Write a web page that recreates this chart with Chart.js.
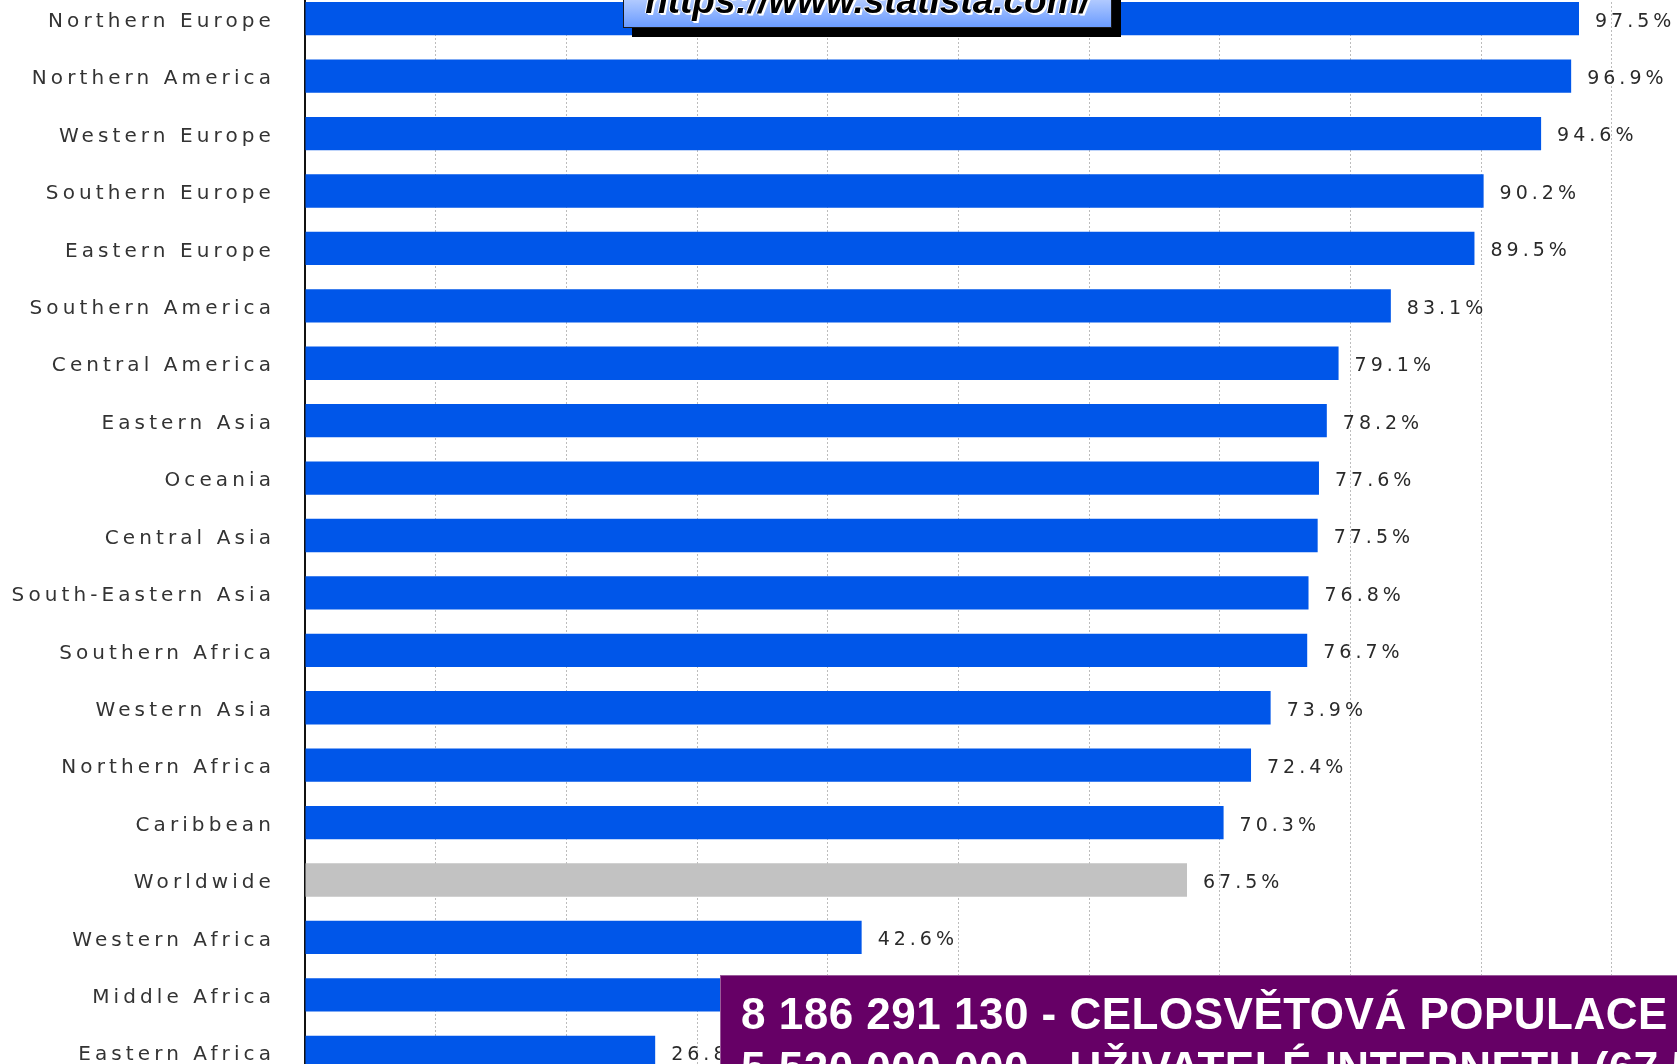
<!DOCTYPE html>
<html>
<head>
<meta charset="utf-8">
<script src="https://cdn.jsdelivr.net/npm/chart.js@4"></script>
<style>
  html, body { margin: 0; padding: 0; background: #fff; overflow: hidden; width: 1677px; height: 1064px; }
  #wrap { position: absolute; left: 0; top: -10px; width: 1677px; height: 1091px; }
  #url {
    position: absolute; left: 623px; top: -26px; width: 487px; height: 52px;
    border: 1px solid #1a1a1a; background: linear-gradient(#f2f5ff, #6a9bff);
    box-shadow: 9px 9px 0 #000;
  }
  #url span {
    position: absolute; left: 0; top: 7px; width: 100%; text-align: center;
    font: italic bold 37px "Liberation Sans", Arial, sans-serif; line-height: 37px; color: #000;
    text-shadow: 2px 2px 0 #fff, 1px 1px 0 #fff, -1px 0 0 #fff, 0 -1px 0 #fff;
  }
  #note {
    position: absolute; left: 720px; top: 975px; width: 1000px; height: 140px;
    background: #660066; border: 1px solid #9a5a9a; box-sizing: border-box;
    padding: 11px 0 0 20px; color: #fff; white-space: nowrap;
    font: bold 44px "Liberation Sans", Arial, sans-serif; line-height: 54px; letter-spacing: 0.5px;
  }
</style>
</head>
<body>
<div id="wrap"><canvas id="c" width="1677" height="1091"></canvas></div>
<div id="url"><span>https://www.statista.com/</span></div>
<div id="note">8 186 291 130 - CELOSVĚTOVÁ POPULACE<br>5 520 000 000 - UŽIVATELÉ INTERNETU (67,5 %)</div>
<script>
// Internet penetration rate by region (share of population online), cropped Statista bar chart
const REGIONS = ["Northern Europe", "Northern America", "Western Europe", "Southern Europe", "Eastern Europe",
  "Southern America", "Central America", "Eastern Asia", "Oceania", "Central Asia", "South-Eastern Asia",
  "Southern Africa", "Western Asia", "Northern Africa", "Caribbean", "Worldwide", "Western Africa",
  "Middle Africa", "Eastern Africa"];
const SHARES = [97.5, 96.9, 94.6, 90.2, 89.5, 83.1, 79.1, 78.2, 77.6, 77.5, 76.8, 76.7, 73.9, 72.4, 70.3,
  67.5, 42.6, 35.8, 26.8];
const X_TICKS = [0, 10, 20, 30, 40, 50, 60, 70, 80, 90, 100];

const BLUE = "#0056e9", GREY = "#c2c2c2";

// labels in the source are very widely tracked
const spacing = {
  id: "spacing",
  beforeDraw(chart) { chart.ctx.letterSpacing = "4.1px"; },
};

const valueLabels = {
  id: "valueLabels",
  afterDatasetsDraw(chart) {
    const ctx = chart.ctx;
    const meta = chart.getDatasetMeta(0);
    ctx.save();
    ctx.letterSpacing = "4px";
    ctx.font = '19px "DejaVu Sans"';
    ctx.fillStyle = "#2a2a2a";
    ctx.textAlign = "left";
    ctx.textBaseline = "middle";
    meta.data.forEach((bar, i) => ctx.fillText(`${SHARES[i].toFixed(1)}%`, bar.x + 16, bar.y + 3));
    ctx.restore();
  },
};

new Chart(document.getElementById("c"), {
  type: "bar",
  data: {
    labels: REGIONS,
    datasets: [{
      data: SHARES,
      backgroundColor: REGIONS.map((r) => (r === "Worldwide" ? GREY : BLUE)),
      borderWidth: 0,
      barPercentage: 0.58,
      categoryPercentage: 1,
    }],
  },
  options: {
    indexAxis: "y",
    responsive: false,
    animation: false,
    devicePixelRatio: 1,
    layout: { padding: 0 },
    plugins: { legend: { display: false }, tooltip: { enabled: false } },
    scales: {
      x: {
        min: 0, max: 105,
        afterBuildTicks: (s) => { s.ticks = X_TICKS.map((v) => ({ value: v })); },
        afterFit: (s) => { s.height = 0; s.paddingLeft = 0; s.paddingRight = 0; },
        ticks: { display: false },
        grid: { color: "#bcbcbc", lineWidth: 1, drawTicks: false },
        border: { display: false, dash: [2, 2] },
      },
      y: {
        afterFit: (s) => { s.width = 305; s.paddingTop = 0; s.paddingBottom = 0; },
        ticks: { color: "#333", padding: 30, labelOffset: 3, font: { family: "DejaVu Sans", size: 20 } },
        grid: { display: false, drawTicks: false },
        border: { display: true, color: "#111", width: 2 },
      },
    },
  },
  plugins: [spacing, valueLabels],
});
</script>
</body>
</html>
